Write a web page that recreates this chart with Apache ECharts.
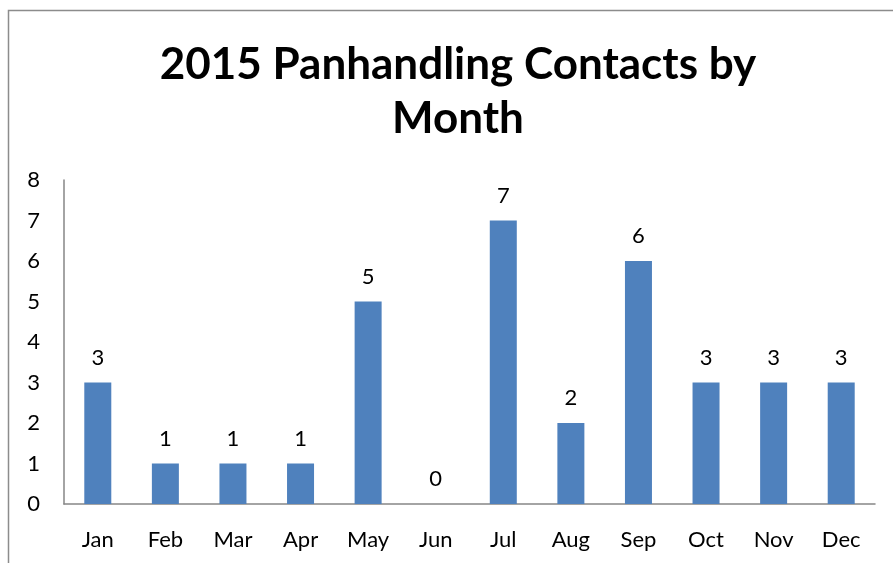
<!DOCTYPE html>
<html>
<head>
<meta charset="utf-8">
<script src="https://cdn.jsdelivr.net/npm/echarts@6/dist/echarts.min.js"></script>
<style>
  html, body { margin: 0; padding: 0; background: #fff; }
  #chart { width: 893px; height: 563px; }
</style>
</head>
<body>
<div id="chart"></div>
<script>
// data
const months = ['Jan', 'Feb', 'Mar', 'Apr', 'May', 'Jun', 'Jul', 'Aug', 'Sep', 'Oct', 'Nov', 'Dec']
const contacts = [3, 1, 1, 1, 5, 0, 7, 2, 6, 3, 3, 3]
const titleText = '2015 Panhandling Contacts by\nMonth'

const fontName = 'Lato, "Open Sans", sans-serif'
const chart = echarts.init(document.getElementById('chart'))

chart.setOption({
  animation: false,
  title: {
    text: titleText,
    left: 453,
    top: 33,
    textAlign: 'center',
    textStyle: {
      fontFamily: fontName,
      fontSize: 44,
      fontWeight: 'bold',
      color: '#000',
      lineHeight: 54
    }
  },
  graphic: [{
    type: 'rect',
    shape: { x: 8.5, y: 10.5, width: 900, height: 600 },
    style: { fill: 'none', stroke: '#8c8c8c', lineWidth: 1.5 },
    silent: true
  }],
  grid: {
    left: 64,
    right: 18,
    top: 180,
    bottom: 59
  },
  xAxis: {
    type: 'category',
    data: months,
    axisLine: { lineStyle: { color: '#868686', width: 1.5 } },
    axisTick: { show: false },
    axisLabel: {
      color: '#000',
      fontFamily: fontName,
      fontSize: 22,
      margin: 25
    }
  },
  yAxis: {
    type: 'value',
    min: 0,
    max: 8,
    interval: 1,
    splitLine: { show: false },
    axisLine: { show: true, lineStyle: { color: '#868686', width: 1.5 } },
    axisTick: { show: false },
    axisLabel: {
      color: '#000',
      fontFamily: fontName,
      fontSize: 22,
      margin: 24
    }
  },
  series: [{
    type: 'bar',
    data: contacts,
    barWidth: 27,
    itemStyle: { color: '#4f81bd' },
    label: {
      show: true,
      position: 'top',
      distance: 14,
      color: '#000',
      fontFamily: fontName,
      fontSize: 22
    }
  }]
})
</script>
</body>
</html>
